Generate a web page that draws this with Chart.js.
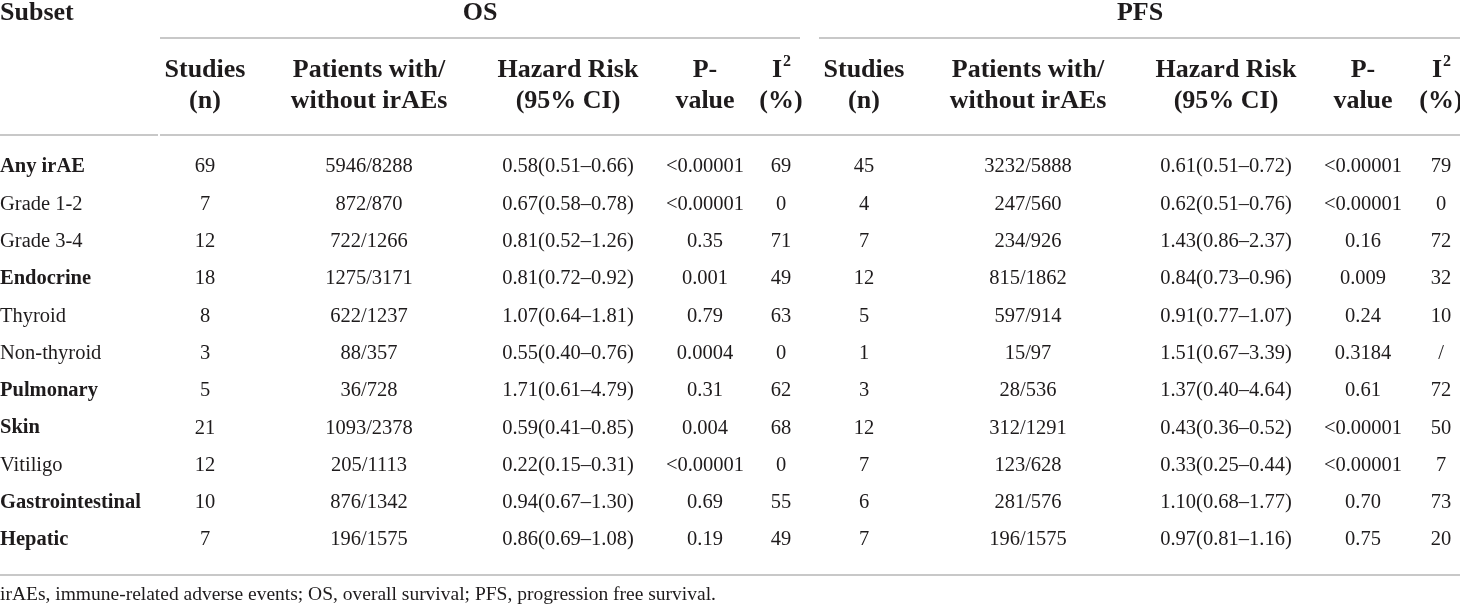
<!DOCTYPE html>
<html>
<head>
<meta charset="utf-8">
<script src="https://cdn.jsdelivr.net/npm/chart.js@4"></script>
<style>
html,body{margin:0;padding:0;background:#fff;}
#wrap{width:1460px;height:608px;}
</style>
</head>
<body>
<div id="wrap"><canvas id="c" width="1460" height="608"></canvas></div>
<script>
// ---- data ----
const subsets = ["Any irAE","Grade 1-2","Grade 3-4","Endocrine","Thyroid","Non-thyroid","Pulmonary","Skin","Vitiligo","Gastrointestinal","Hepatic"];
const boldRows = ["Any irAE","Endocrine","Pulmonary","Skin","Gastrointestinal","Hepatic"];
const osStudies = ["69","7","12","18","8","3","5","21","12","10","7"];
const osPatients = ["5946/8288","872/870","722/1266","1275/3171","622/1237","88/357","36/728","1093/2378","205/1113","876/1342","196/1575"];
const osHR = ["0.58(0.51–0.66)","0.67(0.58–0.78)","0.81(0.52–1.26)","0.81(0.72–0.92)","1.07(0.64–1.81)","0.55(0.40–0.76)","1.71(0.61–4.79)","0.59(0.41–0.85)","0.22(0.15–0.31)","0.94(0.67–1.30)","0.86(0.69–1.08)"];
const osP = ["<0.00001","<0.00001","0.35","0.001","0.79","0.0004","0.31","0.004","<0.00001","0.69","0.19"];
const osI2 = ["69","0","71","49","63","0","62","68","0","55","49"];
const pfsStudies = ["45","4","7","12","5","1","3","12","7","6","7"];
const pfsPatients = ["3232/5888","247/560","234/926","815/1862","597/914","15/97","28/536","312/1291","123/628","281/576","196/1575"];
const pfsHR = ["0.61(0.51–0.72)","0.62(0.51–0.76)","1.43(0.86–2.37)","0.84(0.73–0.96)","0.91(0.77–1.07)","1.51(0.67–3.39)","1.37(0.40–4.64)","0.43(0.36–0.52)","0.33(0.25–0.44)","1.10(0.68–1.77)","0.97(0.81–1.16)"];
const pfsP = ["<0.00001","<0.00001","0.16","0.009","0.24","0.3184","0.61","<0.00001","<0.00001","0.70","0.75"];
const pfsI2 = ["79","0","72","32","10","/","72","50","7","73","20"];
const groupTitles = ["OS","PFS"];
const colHeaders = [["Studies","(n)"],["Patients with/","without irAEs"],["Hazard Risk","(95% CI)"],["P-","value"],["I2","(%)"]];
const footnote = "irAEs, immune-related adverse events; OS, overall survival; PFS, progression free survival.";

// ---- layout (positions on the x scale, not data) ----
const colX = [205, 369, 568, 705, 781, 864, 1028, 1226, 1363, 1441];
const groupX = [480, 1140];
const columns = [osStudies, osPatients, osHR, osP, osI2, pfsStudies, pfsPatients, pfsHR, pfsP, pfsI2];

const SERIF = '"Liberation Serif","Times New Roman",serif';
const TXT = '#1e1b1c';
const RULE = '#c8c8c8';
const HEAD = 'bold 26px ' + SERIF;

const datasets = columns.map((col, ci) => ({
  label: 'col' + ci,
  data: subsets.map((s) => ({x: colX[ci], y: s})),
  pointRadius: 0,
  showLine: false
}));
datasets.unshift({label:'subset', data: subsets.map(s => ({x: 0, y: s})), pointRadius: 0, showLine:false});

const tablePlugin = {
  id: 'tableText',
  afterDatasetsDraw(chart) {
    const ctx = chart.ctx;
    const xs = chart.scales.x;
    ctx.save();
    ctx.fillStyle = TXT;
    ctx.textBaseline = 'middle';
    // rules
    ctx.strokeStyle = RULE;
    ctx.lineWidth = 2;
    const hl = (x1, x2, y) => { ctx.beginPath(); ctx.moveTo(xs.getPixelForValue(x1), y); ctx.lineTo(xs.getPixelForValue(x2), y); ctx.stroke(); };
    hl(160, 800, 38);
    hl(819, 1460, 38);
    hl(0, 158, 135);
    hl(160, 1460, 135);
    hl(0, 1460, 575);

    // header
    ctx.font = HEAD;
    ctx.textAlign = 'left';
    ctx.fillText('Subset', 0, 13);
    ctx.textAlign = 'center';
    groupTitles.forEach((g, gi) => ctx.fillText(g, xs.getPixelForValue(groupX[gi]), 13));
    colX.forEach((cx, ci) => {
      const h = colHeaders[ci % 5];
      const px = xs.getPixelForValue(cx);
      if (h[0] === 'I2') {
        ctx.font = HEAD;
        const wI = ctx.measureText('I').width;
        ctx.font = 'bold 16px ' + SERIF;
        const w2 = ctx.measureText('2').width;
        const start = px - (wI + w2) / 2;
        ctx.textAlign = 'left';
        ctx.font = HEAD;
        ctx.fillText('I', start, 70);
        ctx.font = 'bold 16px ' + SERIF;
        ctx.fillText('2', start + wI + 1, 62);
        ctx.textAlign = 'center';
        ctx.font = HEAD;
      } else {
        ctx.font = HEAD;
        ctx.fillText(h[0], px, 70);
      }
      ctx.fillText(h[1], px, 101);
    });

    // body cells via dataset element positions
    chart.data.datasets.forEach((ds, di) => {
      const meta = chart.getDatasetMeta(di);
      meta.data.forEach((pt, ri) => {
        if (di === 0) {
          const lab = subsets[ri];
          ctx.font = (boldRows.includes(lab) ? 'bold ' : '') + '20.5px ' + SERIF;
          ctx.textAlign = 'left';
          ctx.fillText(lab, pt.x, pt.y);
        } else {
          ctx.font = '20.5px ' + SERIF;
          ctx.textAlign = 'center';
          ctx.fillText(columns[di - 1][ri], pt.x, pt.y);
        }
      });
    });

    // footnote
    ctx.font = '19.5px ' + SERIF;
    ctx.textAlign = 'left';
    ctx.fillText(footnote, 0, 595);
    ctx.restore();
  }
};

new Chart(document.getElementById('c'), {
  type: 'scatter',
  data: { labels: subsets, datasets },
  options: {
    responsive: false,
    animation: false,
    layout: { padding: { top: 148.3, bottom: 49.3, left: 0, right: 0 } },
    plugins: { legend: { display: false }, tooltip: { enabled: false } },
    scales: {
      x: { type: 'linear', min: 0, max: 1460, display: false },
      y: { type: 'category', labels: subsets, offset: true, display: false }
    }
  },
  plugins: [tablePlugin]
});
</script>
</body>
</html>
